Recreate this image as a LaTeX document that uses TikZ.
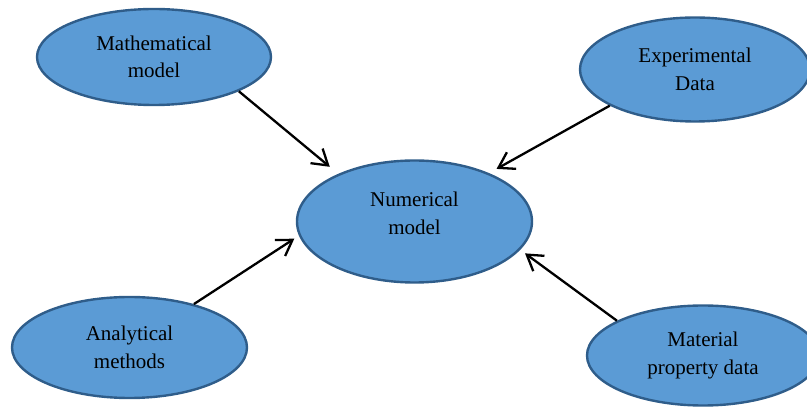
\documentclass[tikz,border=0pt]{standalone}
\usepackage{fontspec}
\setmainfont{Liberation Serif}
\usetikzlibrary{shapes.geometric,arrows.meta}
\definecolor{bubblefill}{HTML}{5B9BD5}
\definecolor{bubbleedge}{HTML}{2F5D8A}
\tikzset{
  bubble/.style={ellipse, draw=bubbleedge, fill=bubblefill, line width=2.4pt,
    inner sep=0pt, align=center, font=\fontsize{21}{27.5}\selectfont},
  txt/.style={align=center, font=\fontsize{21}{27.5}\selectfont, inner sep=0pt},
  feed/.style={draw=black, line width=2.3pt,
    -{Straight Barb[length=15pt,width=19pt,line width=2.3pt]}}
}
\begin{document}
\begin{tikzpicture}[x=1pt,y=1pt]
\useasboundingbox (0,0) rectangle (807,407);
% sources around the central model
\node[bubble, minimum width=234pt, minimum height=96pt] (math) at (154,350) {Mathematical\\model};
\node[bubble, minimum width=230pt, minimum height=104pt] (exp) at (695,337.5) {Experimental\\Data};
\node[bubble, minimum width=235pt, minimum height=101pt] (anal) at (129.5,59.5) {Analytical\\methods};
\node[bubble, minimum width=232pt, minimum height=100pt] (mat) at (703,51.5) {Material\\property data};
% central model, text set slightly above the middle
\node[bubble, minimum width=235pt, minimum height=122pt,
  label={[txt, yshift=8pt]center:Numerical\\model}] (num) at (414.5,185.5) {};
% inputs feeding the numerical model
\draw[feed, shorten >=11pt] (math.-22) -- (num.148);
\draw[feed, shorten >=8.6pt] (exp.203) -- (num.33);
\draw[feed, shorten >=5.5pt] (anal.34) -- (num.187);
\draw[feed, shorten >=6pt] (mat.158) -- (num.-15);
\end{tikzpicture}
\end{document}
